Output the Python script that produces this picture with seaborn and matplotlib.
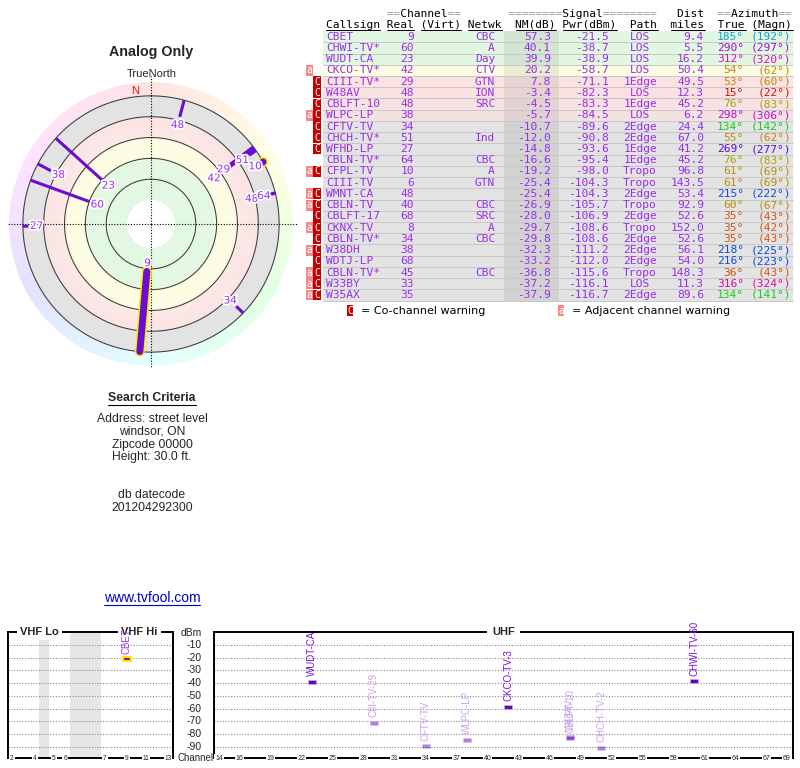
import numpy as np
import pandas as pd
import seaborn as sns
import matplotlib
matplotlib.use("Agg")
import matplotlib.pyplot as plt
import matplotlib.patheffects as pe
from matplotlib.colors import hsv_to_rgb, to_rgb

# ---------------- station data ----------------
callsign = ["CBET", "CHWI-TV*", "WUDT-CA", "CKCO-TV*", "CIII-TV*", "W48AV", "CBLFT-10",
            "WLPC-LP", "CFTV-TV", "CHCH-TV*", "WFHD-LP", "CBLN-TV*", "CFPL-TV", "CIII-TV",
            "WMNT-CA", "CBLN-TV", "CBLFT-17", "CKNX-TV", "CBLN-TV*", "W38DH", "WDTJ-LP",
            "CBLN-TV*", "W33BY", "W35AX"]
channel = [9, 60, 23, 42, 29, 48, 48, 38, 34, 51, 27, 64, 10, 6, 48, 40, 68, 8, 34, 38, 68,
           45, 33, 35]
network = ["CBC", "A", "Day", "CTV", "GTN", "ION", "SRC", "", "", "Ind", "", "CBC", "A", "GTN",
           "", "CBC", "SRC", "A", "CBC", "", "", "CBC", "", ""]
nm_db = [57.3, 40.1, 39.9, 20.2, 7.8, -3.4, -4.5, -5.7, -10.7, -12.0, -14.8, -16.6, -19.2,
         -25.4, -25.4, -26.9, -28.0, -29.7, -29.8, -32.3, -33.2, -36.8, -37.2, -37.9]
pwr_dbm = [-21.5, -38.7, -38.9, -58.7, -71.1, -82.3, -83.3, -84.5, -89.6, -90.8, -93.6, -95.4,
           -98.0, -104.3, -104.3, -105.7, -106.9, -108.6, -108.6, -111.2, -112.0, -115.6,
           -116.1, -116.7]
path = ["LOS", "LOS", "LOS", "LOS", "1Edge", "LOS", "1Edge", "LOS", "2Edge", "2Edge", "1Edge",
        "1Edge", "Tropo", "Tropo", "2Edge", "Tropo", "2Edge", "Tropo", "2Edge", "2Edge",
        "2Edge", "Tropo", "LOS", "2Edge"]
dist_mi = [9.4, 5.5, 16.2, 50.4, 49.5, 12.3, 45.2, 6.2, 24.4, 67.0, 41.2, 45.2, 96.8, 143.5,
           53.4, 92.9, 52.6, 152.0, 52.6, 56.1, 54.0, 148.3, 11.3, 89.6]
az_true = [185, 290, 312, 54, 53, 15, 76, 298, 134, 55, 269, 76, 61, 61, 215, 60, 35, 35, 35,
           218, 216, 36, 316, 134]
az_magn = [192, 297, 320, 62, 60, 22, 83, 306, 142, 62, 277, 83, 69, 69, 222, 67, 43, 42, 43,
           225, 223, 43, 324, 141]
adj_warn = [0, 0, 0, 1, 0, 0, 0, 1, 0, 0, 0, 0, 1, 0, 1, 1, 0, 1, 0, 1, 0, 1, 1, 1]
co_warn = [0, 0, 0, 0, 1, 1, 1, 1, 1, 1, 1, 0, 1, 0, 1, 1, 1, 1, 1, 1, 1, 1, 1, 1]
analog = [1, 0, 0, 0, 0, 0, 0, 0, 0, 0, 0, 0, 1, 1, 0, 0, 0, 1, 0, 0, 0, 0, 0, 0]

# names used on the spectrum strip (stations with Pwr above -92 dBm)
spec_label = ["CBET", "CHWI-TV-60", "WUDT-CA", "CKCO-TV-3", "CIII-TV-29", "W48AV",
              "CBLFT-10", "WLPC-LP", "CFTV-TV", "CHCH-TV-2"]

vhf_ticks = [2, 4, 5, 6, 7, 9, 11, 13]
uhf_ticks = [14, 16, 19, 22, 25, 28, 31, 34, 37, 40, 43, 46, 49, 52, 55, 58, 61, 64, 67, 69]
dbm_levels = [-10, -20, -30, -40, -50, -60, -70, -80, -90]
ring_levels = [60, 40, 20, 0, -20]

search_lines = ["Address: street level", "windsor, ON", "Zipcode 00000", "Height: 30.0 ft."]

# ---------------- style ----------------
sns.set_theme(style="white")
plt.rcParams["font.family"] = ["Liberation Sans", "DejaVu Sans"]

PURPLE = "#9a2ee8"
LINE = "#6c0cd0"
MONO = "DejaVu Sans Mono"
W, H = 800, 768

# VHF channels are not evenly spaced on the strip (band gaps)
vhf_scale_ch = [2, 3, 4, 5, 6, 7, 8, 9, 10, 11, 12, 13]
vhf_scale_px = [12, 23, 35, 54, 65, 105, 116, 127, 137, 146, 157, 168]


def mix(v, pts, cols):
    rgb = np.array([to_rgb(c) for c in cols])
    v = np.atleast_1d(v)
    return np.stack([np.interp(v, pts, rgb[:, k]) for k in range(3)], axis=-1)


def table_color(v):
    return mix(v, [-10, -3, 10, 20, 30],
               ["#e3e3e3", "#fbe2e2", "#fbe2e2", "#fdfde2", "#e2f7e2"])


def polar_color(v):
    return mix(v, [-1, 1, 17, 23, 37, 43],
               ["#e3e3e3", "#fbe4e4", "#fce6e6", "#fcfde3", "#fcfde3", "#e2f8e2"])


def az_color(az):
    # compass hue wheel, a bit compressed in the warm range so yellows stay readable
    hue = np.interp(az, [0, 15, 35, 55, 76, 134, 185, 215, 269, 360],
                    [0, 0, 22, 42, 55, 125, 195, 220, 262, 360])
    val = 0.82 - 0.14 * np.exp(-((hue - 55) / 15) ** 2)
    return hsv_to_rgb((hue / 360.0, 0.92, val))


fig = plt.figure(figsize=(W / 100, H / 100), dpi=100)

# page layer in pixel coordinates for the free text
pg = fig.add_axes([0, 0, 1, 1])
pg.set_xlim(0, W)
pg.set_ylim(H, 0)
pg.set_axis_off()

pg.text(151, 52, "Analog Only", ha="center", va="center", fontsize=10.3, fontweight="bold")
pg.text(152, 74, "TrueNorth", ha="center", va="center", fontsize=8)
t_sc = pg.text(152, 398, "Search Criteria", ha="center", va="center", fontsize=8.8,
               fontweight="bold")
for k, s in enumerate(search_lines):
    pg.text(152, 419 + 12.8 * k, s, ha="center", va="center", fontsize=8.7)
pg.text(152, 495, "db datecode", ha="center", va="center", fontsize=8.7)
pg.text(152, 508, "201204292300", ha="center", va="center", fontsize=8.7)
t_url = pg.text(152, 598, "www.tvfool.com", ha="center", va="center", fontsize=10,
                color="#0000cc")

renderer = fig.canvas.get_renderer()
for t, yy, c in [(t_sc, 404.5, "black"), (t_url, 604.5, "#0000cc")]:
    bb = t.get_window_extent(renderer=renderer)
    x0, _ = pg.transData.inverted().transform((bb.x0, bb.y0))
    x1, _ = pg.transData.inverted().transform((bb.x1, bb.y0))
    pg.plot([x0, x1], [yy, yy], color=c, lw=0.8)

# ---------------- compass ----------------
ax = fig.add_axes([9 / W, (H - 224 - 142) / H, 284 / W, 284 / H], projection="polar")
ax.set_theta_zero_location("N")
ax.set_theta_direction(-1)
R_CENTER, R_OUTER = 103.0, -33.3
ax.set_ylim(R_CENTER, R_OUTER)
ax.set_axis_off()

th_edges = np.linspace(0, 2 * np.pi, 361)
th_mid = (th_edges[:-1] + th_edges[1:]) / 2
ring = hsv_to_rgb(np.stack([th_mid / (2 * np.pi), np.full_like(th_mid, 0.11),
                            np.ones_like(th_mid)], axis=-1))[None, :, :]
T, RR = np.meshgrid(th_edges, [-20, R_OUTER])
ax.pcolormesh(T, RR, ring, shading="flat")

r_edges = np.linspace(80, -20, 201)
r_mid = (r_edges[:-1] + r_edges[1:]) / 2
zone = np.repeat(polar_color(r_mid)[:, None, :], 360, axis=1)
T, RR = np.meshgrid(th_edges, r_edges)
ax.pcolormesh(T, RR, zone, shading="flat")

for lv in ring_levels:
    ax.plot(th_edges, np.full_like(th_edges, lv), color="#3a3a3a", lw=0.75)

for ang, far in [(0, -39), (90, -37), (180, -34.5), (270, -35)]:
    ax.plot([np.deg2rad(ang)] * 2, [R_CENTER, far], color="black", lw=0.8,
            ls=(0, (1, 1.5)), clip_on=False)

halo = [pe.withStroke(linewidth=2.5, foreground="white")]
for i in range(len(callsign)):
    if nm_db[i] < -20:
        continue
    th = np.deg2rad(az_true[i])
    if analog[i]:
        ax.plot([th, th], [nm_db[i], -20], color=LINE, lw=5, solid_capstyle="round",
                path_effects=[pe.Stroke(linewidth=7.2, foreground="#ffee00"), pe.Normal()],
                zorder=4)
    else:
        ax.plot([th, th], [nm_db[i], -20], color=LINE, lw=2.2, solid_capstyle="butt",
                zorder=3)
    ax.text(th, nm_db[i] + 8, str(channel[i]), ha="center", va="center", fontsize=7.5,
            color=PURPLE, family="DejaVu Sans", path_effects=halo, zorder=5)

ax.text(np.deg2rad(353), -25.7, "N", ha="center", va="center", fontsize=8, color="#dd1111")

# ---------------- table ----------------
ROW0, ROWH = 36.7, 11.23
tb = fig.add_axes([300 / W, (H - 320) / H, 500 / W, 320 / H])
tb.set_xlim(300, W)
tb.set_ylim((320 - ROW0) / ROWH, -ROW0 / ROWH)
tb.set_axis_off()

rows = np.arange(len(callsign))
tb.barh(rows, 470, left=323, height=1.0, color=table_color(nm_db), edgecolor="none")
tb.barh(rows, 55, left=504, height=1.0, color="black", alpha=0.07, edgecolor="none")
tb.hlines(rows + 0.5, 323, 793, color="#c8c8c8", lw=0.7)

co = np.array(co_warn, bool)
adj = np.array(adj_warn, bool)
tb.barh(rows[co], 7.4, left=313.2, height=0.97, color="#c40000", edgecolor="none")
tb.barh(rows[adj], 6.6, left=306.1, height=0.97, color="#f28a8a", edgecolor="none")
for r in rows[co]:
    tb.text(316.9, r, "C", ha="center", va="center", fontsize=7, color="white", family=MONO)
for r in rows[adj]:
    tb.text(309.4, r, "a", ha="center", va="center", fontsize=7, color="white", family=MONO)

FS = 8.1
CW = FS * 100 / 72 * 0.60205
X0 = 326
head1 = " " * 9 + "==Channel==" + " " * 7 + "========Signal========" + " " * 3 + "Dist" + "  " + "==Azimuth=="
head2 = "Callsign Real (Virt) Netwk  NM(dB) Pwr(dBm)  Path  miles  True (Magn)"
gray1 = "".join(c if c == "=" else " " for c in head1)
black1 = "".join(" " if c == "=" else c for c in head1)
tb.text(X0, -2.0, gray1, ha="left", va="center", fontsize=FS, family=MONO, color="#9a9a9a")
tb.text(X0, -2.0, black1, ha="left", va="center", fontsize=FS, family=MONO, color="black")
tb.text(X0, -1.04, head2, ha="left", va="center", fontsize=FS, family=MONO, color="black")
pos = 0
for word in head2.split(" "):
    if word:
        tb.plot([X0 + pos * CW, X0 + (pos + len(word)) * CW], [-0.58, -0.58], color="black",
                lw=0.7)
    pos += len(word) + 1

for i in rows:
    kw = dict(va="center", fontsize=FS, family=MONO, color=PURPLE)
    tb.text(326, i, callsign[i], ha="left", **kw)
    tb.text(414, i, str(channel[i]), ha="right", **kw)
    tb.text(495, i, network[i], ha="right", **kw)
    tb.text(551, i, f"{nm_db[i]:.1f}", ha="right", **kw)
    tb.text(609, i, f"{pwr_dbm[i]:.1f}", ha="right", **kw)
    tb.text(640, i, path[i], ha="center", **kw)
    tb.text(704, i, f"{dist_mi[i]:.1f}", ha="right", **kw)
    azc = az_color(az_true[i])
    tb.text(744, i, f"{az_true[i]}°", ha="right", va="center", fontsize=FS, family=MONO,
            color=azc)
    tb.text(791, i, f"({az_magn[i]}°)", ha="right", va="center", fontsize=FS, family=MONO,
            color=azc)

LEG = (310.7 - ROW0) / ROWH
tb.barh([LEG], 6.6, left=346.7, height=0.95, color="#c40000", edgecolor="none")
tb.text(350, LEG, "C", ha="center", va="center", fontsize=7, color="white", family=MONO)
tb.text(360.7, LEG, "= Co-channel warning", ha="left", va="center", fontsize=8,
        family="DejaVu Sans", color="black")
tb.barh([LEG], 6.6, left=557.7, height=0.95, color="#f28a8a", edgecolor="none")
tb.text(561, LEG, "a", ha="center", va="center", fontsize=7, color="white", family=MONO)
tb.text(571.7, LEG, "= Adjacent channel warning", ha="left", va="center", fontsize=8,
        family="DejaVu Sans", color="black")

# ---------------- spectrum strip ----------------
TOP, BOT = 632, 758
YLIM = (-98.8, 0)
ax_v = fig.add_axes([8 / W, (H - BOT) / H, 165 / W, (BOT - TOP) / H])
ax_u = fig.add_axes([214 / W, (H - BOT) / H, 579 / W, (BOT - TOP) / H])

spec = pd.DataFrame({
    "label": spec_label,
    "ch": [c for c, p in zip(channel, pwr_dbm) if p > -92],
    "pwr": [p for p in pwr_dbm if p > -92],
})
spec["x"] = np.where(spec["ch"] <= 13, np.interp(spec["ch"], vhf_scale_ch, vhf_scale_px),
                     spec["ch"])
spec["strong"] = spec["pwr"] > -65

rect = [(-1, -0.4), (1, -0.4), (1, 0.4), (-1, 0.4), (-1, -0.4)]
MARK = "#6a00c8"

for a in (ax_v, ax_u):
    for lv in dbm_levels:
        a.axhline(lv, color="#8a8a8a", lw=0.8, ls=(0, (1, 1.5)), zorder=1)
    for s in a.spines.values():
        s.set_visible(True)
        s.set_color("black")
        s.set_linewidth(1.4)

ax_v.axvspan(39, 49, color="#e6e6e6", zorder=0, lw=0)
ax_v.axvspan(70, 101, color="#e6e6e6", zorder=0, lw=0)

vhf = spec[spec["ch"] <= 13]
uhf = spec[spec["ch"] > 13]
sns.scatterplot(data=vhf, x="x", y="pwr", ax=ax_v, marker=rect, s=36, color=MARK,
                edgecolor="#ffe600", linewidth=1.6, legend=False, zorder=4)
sns.scatterplot(data=uhf[uhf["strong"]], x="x", y="pwr", ax=ax_u, marker=rect, s=33,
                color=MARK, edgecolor="#b8b8b8", linewidth=0.6, legend=False, zorder=4)
sns.scatterplot(data=uhf[~uhf["strong"]], x="x", y="pwr", ax=ax_u, marker=rect, s=33,
                color=MARK, alpha=0.5, edgecolor="#c8c8c8", linewidth=0.6, legend=False,
                zorder=4)

for a, part in ((ax_v, vhf), (ax_u, uhf)):
    for _, row in part.iterrows():
        if row["ch"] <= 13:
            col = "#9a3df0"
        elif row["strong"]:
            col = "#7a10d8"
        else:
            col = "#c9a2ee"
        a.annotate(row["label"], (row["x"], row["pwr"]), xytext=(0, 4),
                   textcoords="offset points", rotation=90, ha="center", va="bottom",
                   fontsize=7, color=col, annotation_clip=False, zorder=6)

ax_v.set_xlim(8, 173)
ax_u.set_xlim(14 - 5 / 10.327, 69 + 6 / 10.327)
box = dict(boxstyle="square,pad=0.12", fc="white", ec="none")
for a in (ax_v, ax_u):
    a.set_ylim(*YLIM)
    a.set_xticks([])
    a.set_yticks([])
    a.set_xlabel("")
    a.set_ylabel("")

for c in vhf_ticks:
    ax_v.text(np.interp(c, vhf_scale_ch, vhf_scale_px), 0, str(c),
              transform=ax_v.get_xaxis_transform(), ha="center", va="center", fontsize=4.8,
              bbox=box, clip_on=False, zorder=7)
for c in uhf_ticks:
    ax_u.text(c, 0, str(c), transform=ax_u.get_xaxis_transform(), ha="center", va="center",
              fontsize=5, bbox=box, clip_on=False, zorder=7)

hbox = dict(boxstyle="square,pad=0.3", fc="white", ec="none")
ax_v.text(39.5, 1, "VHF Lo", transform=ax_v.get_xaxis_transform(), ha="center", va="center",
          fontsize=8, fontweight="bold", bbox=hbox, clip_on=False, zorder=5)
ax_v.text(139.5, 1, "VHF Hi", transform=ax_v.get_xaxis_transform(), ha="center", va="center",
          fontsize=8, fontweight="bold", bbox=hbox, clip_on=False, zorder=5)
ax_u.text(0.5, 1, "UHF", transform=ax_u.transAxes, ha="center", va="center", fontsize=8,
          fontweight="bold", bbox=dict(boxstyle="square,pad=0.5", fc="white", ec="none"),
          clip_on=False, zorder=5)

for lv in dbm_levels:
    ax_u.text(-12 / 579, lv, str(lv), transform=ax_u.get_yaxis_transform(), ha="right",
              va="center", fontsize=7.5)
pg.text(191, 633, "dBm", ha="center", va="center", fontsize=7.5)
pg.text(195, 758, "Channel", ha="center", va="center", fontsize=7)

fig.savefig("out.png", dpi=100)
